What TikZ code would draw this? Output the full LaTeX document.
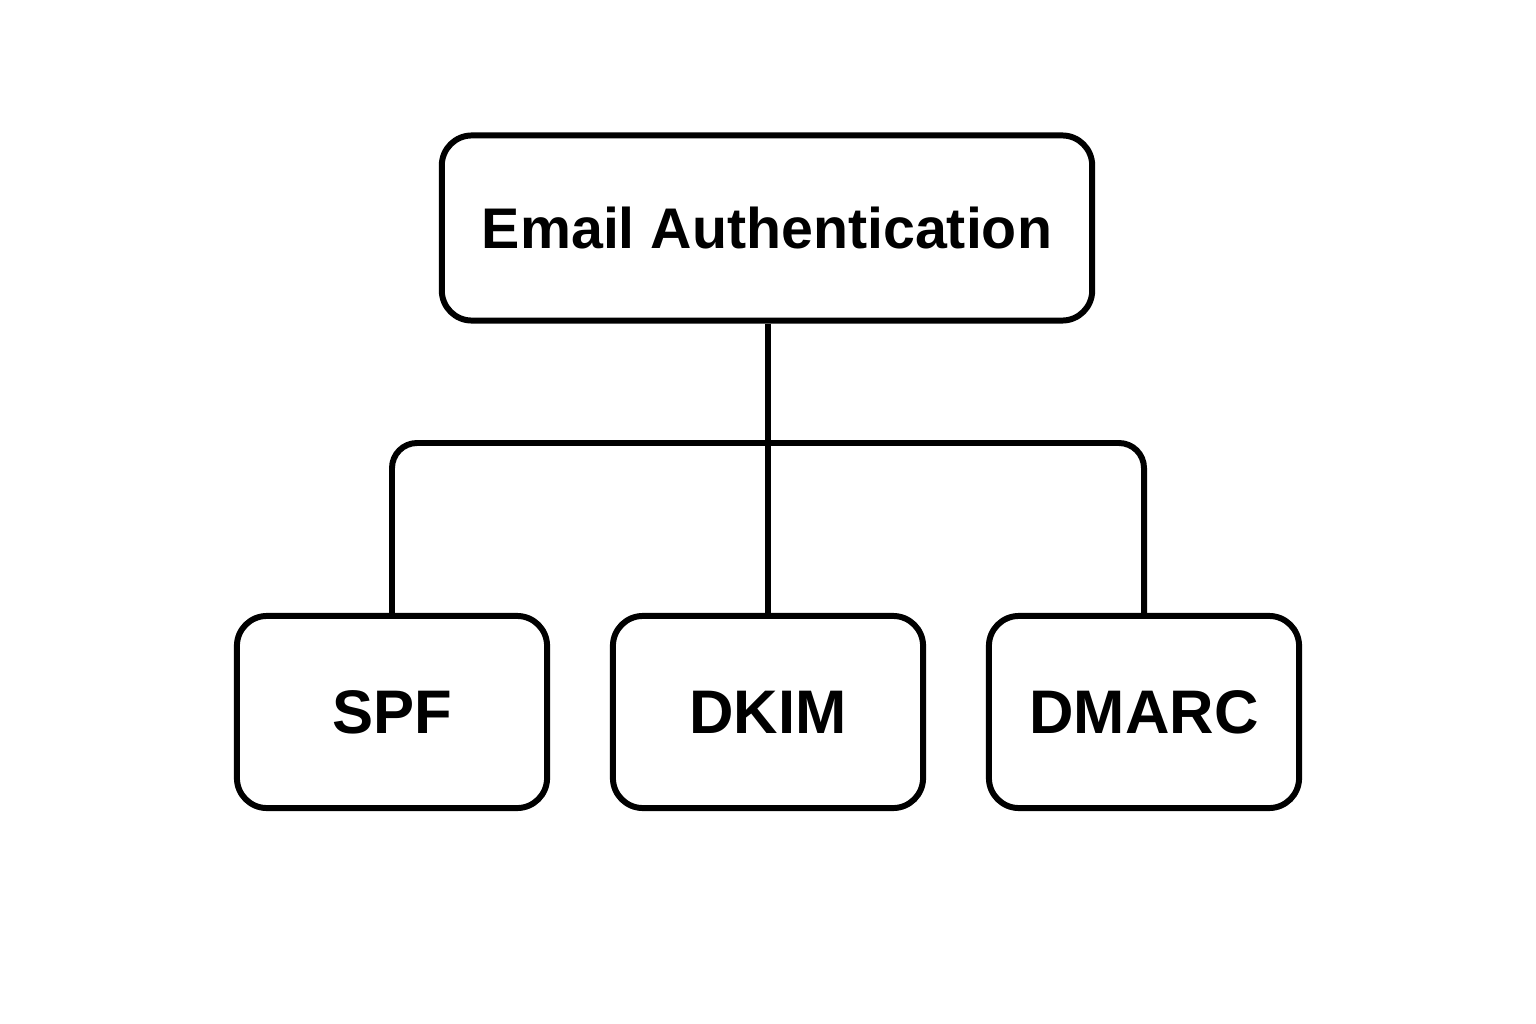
\documentclass[tikz,border=0pt]{standalone}
\usepackage{fontspec}
\setmainfont{Liberation Sans}
\usepackage{tikz}
\usetikzlibrary{positioning}

\begin{document}
\begin{tikzpicture}[
  x=0.01cm, y=-0.01cm,
  box/.style={draw, line width=1.7pt, rounded corners=0.3cm, inner sep=0pt,
              font=\fontsize{17.5pt}{20pt}\selectfont\bfseries},
  rootbox/.style={box, minimum width=6.5cm, minimum height=1.85cm,
              font=\fontsize{16.3pt}{19pt}\selectfont\bfseries},
  leafbox/.style={box, minimum width=3.1cm, minimum height=1.92cm},
  link/.style={line width=1.7pt}
]
  \useasboundingbox (0,0) rectangle (1536,1024);
  % Root
  \node[rootbox] (auth) at (767,228) {Email Authentication};
  % Leaves
  \node[leafbox] (spf)   at (392,712)  {SPF};
  \node[leafbox] (dkim)  at (768,712)  {DKIM};
  \node[leafbox] (dmarc) at (1144,712) {DMARC};

  % Connectors
  \coordinate (bar) at (768,443);
  \draw[link] (auth.south -| dkim.north) -- (dkim.north);
  \draw[link, rounded corners=0.25cm] (spf.north) |- (bar) -| (dmarc.north);
\end{tikzpicture}
\end{document}
